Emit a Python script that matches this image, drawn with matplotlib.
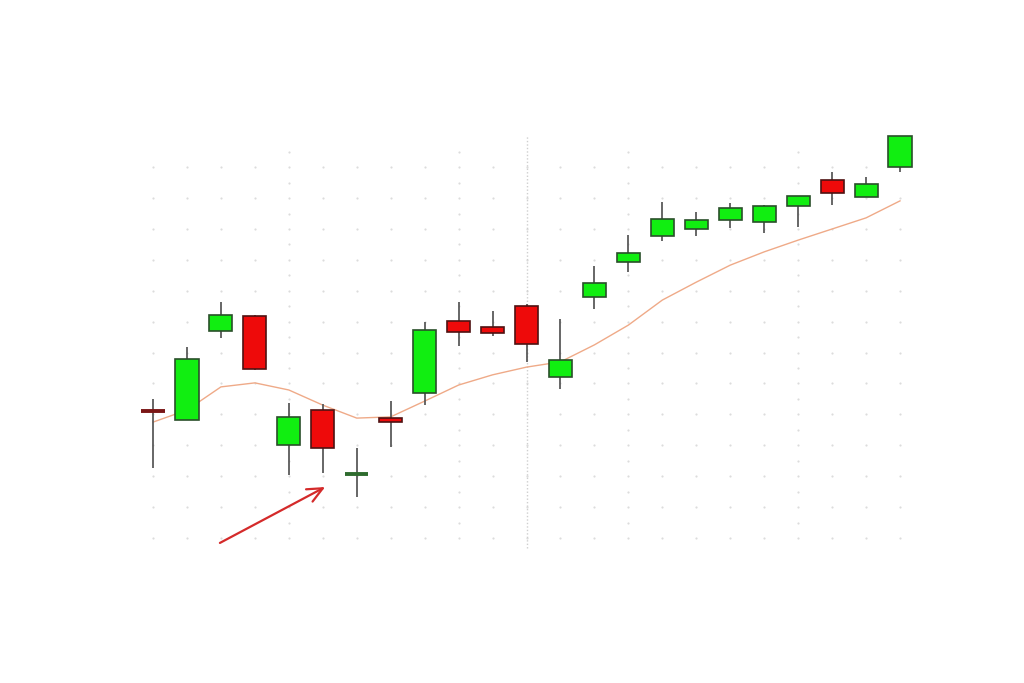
import numpy as np
import matplotlib
matplotlib.use('Agg')
import matplotlib.pyplot as plt

# OHLC values (arbitrary price units, one grid row = 1)
opens = [14.13, 13.82, 16.70, 17.18, 13.01, 14.14, 12.06, 13.88, 14.69, 17.02, 16.83, 17.51,
         15.21, 17.80, 18.93, 19.77, 20.00, 20.29, 20.23, 20.74, 21.59, 21.04, 22.01]
highs = [14.50, 16.18, 17.64, 17.22, 14.37, 14.34, 12.91, 14.43, 16.99, 17.64, 17.35, 17.57,
         17.09, 18.80, 19.81, 20.87, 20.55, 20.84, 20.78, 21.07, 21.84, 21.68, 23.01]
lows = [12.27, 13.82, 16.47, 15.44, 12.04, 12.10, 11.33, 12.94, 14.30, 16.21, 16.54, 15.70,
        14.82, 17.41, 18.61, 19.61, 19.77, 20.03, 19.87, 20.06, 20.78, 21.04, 21.84]
closes = [14.11, 15.79, 17.22, 15.47, 13.92, 12.91, 12.08, 13.75, 16.73, 16.67, 16.63, 16.28,
          15.76, 18.25, 19.22, 20.32, 20.29, 20.68, 20.74, 21.07, 21.17, 21.46, 23.01]

# moving average line
ma = [13.75, 14.14, 14.89, 15.02, 14.79, 14.30, 13.88, 13.92, 14.43, 14.95, 15.28, 15.53,
      15.70, 16.25, 16.89, 17.70, 18.28, 18.83, 19.26, 19.64, 20.00, 20.36, 20.91]

grid_rows = np.arange(10, 23)
dense_cols = [4, 9, 14, 19]
marker_col = 11

x = np.arange(len(opens))
o = np.array(opens)
c = np.array(closes)
up = c >= o

fig = plt.figure(figsize=(10.24, 6.83), dpi=100)
ax = fig.add_axes([0, 0, 1, 1])
ax.set_xlim(-4.507, 25.652)
ax.set_ylim(5.307, 27.411)
ax.axis('off')

# faint dotted grid
gx, gy = np.meshgrid(x, grid_rows)
ax.scatter(gx.ravel(), gy.ravel(), s=2.5, color='#dcdcdc', linewidths=0, zorder=0)
half = np.arange(10.5, 23.0, 1.0)
dx, dy = np.meshgrid(dense_cols, half)
ax.scatter(dx.ravel(), dy.ravel(), s=2.5, color='#dcdcdc', linewidths=0, zorder=0)
ax.vlines(marker_col, 9.68, 23.04, color='#cfcfcf', linestyle=(0, (1, 1.5)), lw=1, zorder=0)

# moving average
ax.plot(x, ma, color='#efaa88', lw=1.0, zorder=1)

# wicks
ax.vlines(x, lows, highs, color='#5a5a5a', lw=1.3, zorder=2)

# bodies
doji = np.abs(c - o) < 0.08
body_col = np.where(up, '#11ee11', '#ee0a0a')
edge_col = np.where(up, '#2a4f2a', '#4f1212')
nd = ~doji
ax.bar(x[nd], (c - o)[nd], bottom=o[nd], width=0.68, color=body_col[nd],
       edgecolor=edge_col[nd], linewidth=1.2, zorder=3)
for i in x[doji]:
    ax.hlines((o[i] + c[i]) / 2, i - 0.34, i + 0.34, lw=2.8,
              color='#2e6b2e' if up[i] else '#7a1616', zorder=3)

# arrow pointing at the low
ax.annotate('', xy=(5.07, 11.65), xytext=(1.97, 9.84),
            arrowprops=dict(arrowstyle='->, head_length=1.1, head_width=0.5',
                            color='#d42a2a', lw=1.6, shrinkA=0, shrinkB=0))

fig.savefig('out.png', dpi=100)
